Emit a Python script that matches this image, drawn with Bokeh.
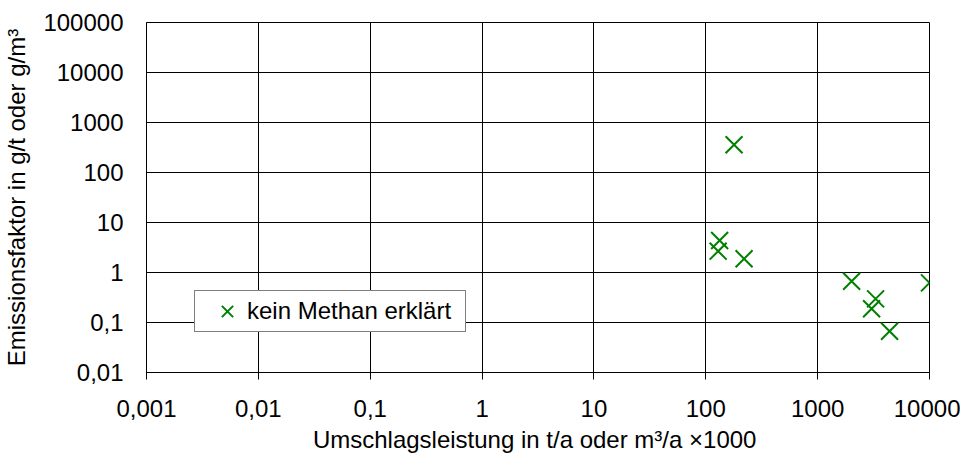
from bokeh.plotting import figure
from bokeh.models import FixedTicker, Legend, LegendItem, Range1d
from bokeh.embed import file_html
from bokeh.resources import INLINE

# data
umschlag = [179, 133, 129, 220, 2013, 10000, 3296, 3036, 4395]
emission = [358, 4.37, 2.67, 1.88, 0.67, 0.62, 0.297, 0.188, 0.067]
series_name = "kein Methan erklärt"

x_ticks = [0.001, 0.01, 0.1, 1, 10, 100, 1000, 10000]
x_tick_labels = ["0,001", "0,01", "0,1", "1", "10", "100", "1000", "10000"]
y_ticks = [0.01, 0.1, 1, 10, 100, 1000, 10000, 100000]
y_tick_labels = ["0,01", "0,1", "1", "10", "100", "1000", "10000", "100000"]

FONT = "Liberation Sans"
FS = "24px"

p = figure(width=960, height=455, x_axis_type="log", y_axis_type="log",
           x_range=Range1d(0.001, 10000), y_range=Range1d(0.01, 100000),
           output_backend="svg", toolbar_location=None,
           min_border_left=145, min_border_right=31, min_border_top=22, min_border_bottom=83)

p.outline_line_color = "black"
p.outline_line_width = 1
p.background_fill_color = "white"
p.border_fill_color = "white"

r = p.scatter(umschlag, emission, marker="x", size=24, line_color="#008000", line_width=2)

p.xaxis.ticker = FixedTicker(ticks=x_ticks, minor_ticks=[])
p.yaxis.ticker = FixedTicker(ticks=y_ticks, minor_ticks=[])
p.xaxis.major_label_overrides = {t: l for t, l in zip(x_ticks, x_tick_labels)}
p.yaxis.major_label_overrides = {t: l for t, l in zip(y_ticks, y_tick_labels)}

for ax in (p.xaxis[0], p.yaxis[0]):
    ax.major_label_text_font = FONT
    ax.major_label_text_font_size = FS
    ax.major_label_text_color = "black"
    ax.axis_label_text_font = FONT
    ax.axis_label_text_font_size = FS
    ax.axis_label_text_font_style = "normal"
    ax.axis_label_text_color = "black"
    ax.axis_line_color = "black"
    ax.minor_tick_line_color = None
    ax.major_tick_line_color = "black"

p.xaxis.major_tick_out = 7
p.xaxis.major_tick_in = 0
p.xaxis.major_label_standoff = 20
p.xaxis.axis_label_standoff = 6
p.yaxis.major_tick_out = 0
p.yaxis.major_tick_in = 0
p.yaxis.major_label_standoff = 23
p.yaxis.axis_label_standoff = 10

p.xaxis.axis_label = "Umschlagsleistung in t/a oder m³/a  ×1000"
p.yaxis.axis_label = "Emissionsfaktor in g/t oder g/m³"

p.xgrid.grid_line_color = "black"
p.ygrid.grid_line_color = "black"
p.xgrid.grid_line_alpha = 1
p.ygrid.grid_line_alpha = 1

legend = Legend(items=[LegendItem(label=series_name, renderers=[r])],
                location=(48, 40), margin=0,
                padding=dict(left=12, right=0, top=0, bottom=0),
                glyph_width=40, glyph_height=40, label_standoff=0,
                label_width=218, label_height=20,
                label_text_font=FONT, label_text_font_size=FS,
                label_text_color="black",
                border_line_color="black", border_line_width=1,
                background_fill_color="white", background_fill_alpha=1)
p.add_layout(legend)

open("out.html", "w").write(file_html(p, INLINE))
